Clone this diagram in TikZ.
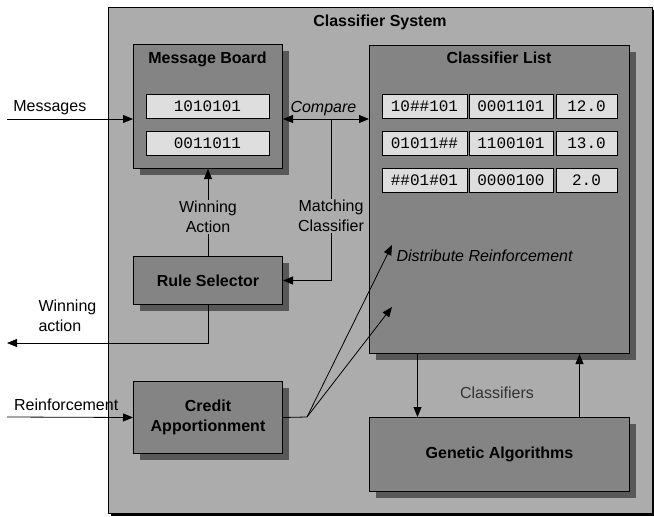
\documentclass[tikz,border=0pt]{standalone}
\usepackage{fontspec}
\setmainfont{Liberation Sans}
\setmonofont{Liberation Mono}
\usetikzlibrary{arrows.meta,shadows,positioning}

\definecolor{panelgray}{RGB}{172,172,172}
\definecolor{boxgray}{RGB}{132,132,132}
\definecolor{shadegray}{RGB}{88,88,88}
\definecolor{cellgray}{RGB}{222,222,222}

\begin{document}
\begin{tikzpicture}[x=1pt,y=-1pt,
	every node/.style={font=\fontsize{16}{20}\selectfont},
	box/.style={draw=black,line width=1pt,fill=boxgray,inner sep=0pt,anchor=north west,
		drop shadow={shadow xshift=6pt,shadow yshift=-6pt,fill=shadegray,opacity=1}},
	cell/.style={draw=black,line width=1pt,fill=cellgray,inner sep=0pt,minimum height=24pt,
		font=\ttfamily\fontsize{16}{20}\selectfont},
	head/.style={font=\bfseries\fontsize{16}{20}\selectfont},
	it/.style={font=\itshape\fontsize{16}{20}\selectfont},
	lbl/.style={fill=panelgray,align=center,inner sep=1pt},
	arr/.style={-{Triangle[length=10pt,width=8pt]},line width=0.8pt}]

			\useasboundingbox (0,0) rectangle (654,517);

			%system frame
			\node[draw=black,line width=1pt,fill=panelgray,anchor=north west,inner sep=0pt,
				minimum width=544pt,minimum height=506pt,
				drop shadow={shadow xshift=2pt,shadow yshift=-2pt,fill=black,opacity=1}] (sys) at (108,7) {};
			\node[head,anchor=base] (systitle) at (380,26) {Classifier System};

			%boxes
			\node[box,minimum width=149pt,minimum height=124pt] (mb) at (133,44) {};
			\node[head,anchor=base] (mbtitle) at (207.5,63) {Message Board};
			\node[box,minimum width=260pt,minimum height=308pt] (cl) at (369,45) {};
			\node[head,anchor=base] (cltitle) at (499,63) {Classifier List};
			\node[box,head,minimum width=149pt,minimum height=48pt] (rs) at (133,256) {Rule Selector};
			\node[box,head,align=center,minimum width=149pt,minimum height=72pt] (ca) at (133,381) {Credit\\Apportionment};
			\node[box,head,minimum width=260pt,minimum height=74pt] (ga) at (369,417) {Genetic Algorithms};

			%messages
			\node[cell,minimum width=123pt] (m1) at (207.5,106) {1010101};
			\node[cell,minimum width=123pt] (m2) at (207.5,143.5) {0011011};

			%classifiers
			\node[cell,minimum width=85pt] (c11) at (424.5,106) {10\#\#101};
			\node[cell,minimum width=84pt] (c12) at (511,106) {0001101};
			\node[cell,minimum width=61pt] (c13) at (586.5,106) {12.0};
			\node[cell,minimum width=85pt] (c21) at (424.5,143.5) {01011\#\#};
			\node[cell,minimum width=84pt] (c22) at (511,143.5) {1100101};
			\node[cell,minimum width=61pt] (c23) at (586.5,143.5) {13.0};
			\node[cell,minimum width=85pt] (c31) at (424.5,180.5) {\#\#01\#01};
			\node[cell,minimum width=84pt] (c32) at (511,180.5) {0000100};
			\node[cell,minimum width=61pt] (c33) at (586.5,180.5) {2.0};

			%free ends
			\coordinate (msgs) at (7,119);
			\coordinate (cmp) at (331,119);
			\coordinate (wout) at (7,343);
			\coordinate (rein) at (7,417);
			\coordinate (split) at (307,417);
			\coordinate (dr1) at (392,245);
			\coordinate (dr2) at (392,307);

			%edges
			\draw[arr] (msgs) -- node[pos=0.34,above=0pt] {Messages} (msgs -| mb.west);
			\draw[{Triangle[length=10pt,width=8pt]}-{Triangle[length=10pt,width=8pt]},line width=0.8pt]
				(mb.east |- cmp) -- node[it,pos=0.47,above=-1pt] {Compare} (cl.west |- cmp);
			\draw[arr] (cmp) -- node[lbl,pos=0.6] {Matching\\Classifier} (cmp |- rs.east) -- (rs.east);
			\draw[arr] (rs.north) -- node[lbl,pos=0.45] {Winning\\Action} (mb.south);
			\draw[arr] (rs.south) |- (wout);
			\node[align=left,anchor=west] (wlabel) at (35,316) {Winning\\action};
			\draw[arr] (rein) -- node[pos=0.47,above=3pt] {Reinforcement} (ca.west);
			\draw[line width=0.8pt] (ca.east) -- (split);
			\draw[arr] (split) -- (dr1);
			\draw[arr] (split) -- (dr2);
			\node[it,anchor=base west] (dist) at (393,261) {Distribute Reinforcement};
			\draw[arr] ([xshift=-82pt]cl.south) -- ([xshift=-82pt]ga.north);
			\draw[arr] ([xshift=80pt]ga.north) -- ([xshift=80pt]cl.south);
			\node[anchor=base,text=black!80] (clsf) at (497,398) {Classifiers};
		\end{tikzpicture}
\end{document}
